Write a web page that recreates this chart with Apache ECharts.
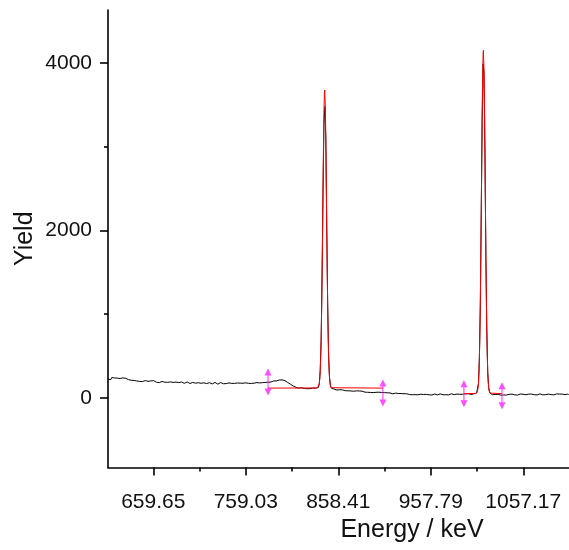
<!DOCTYPE html>
<html>
<head>
<meta charset="utf-8">
<script src="https://cdn.jsdelivr.net/npm/echarts@6/dist/echarts.min.js"></script>
<style>
  html, body { margin: 0; padding: 0; background: #fff; }
  #chart { width: 569px; height: 550px; }
</style>
</head>
<body>
<div id="chart"></div>
<script>
// Gamma spectrum: measured yield per 1 keV channel (black) and Gaussian peak fits (red)

// Background below the first line: channels 611 … 833 keV
const lowBgStart = 611;
const lowBackground = [
  225, 241, 230, 219, 244, 236, 222, 239, 248, 228,
  237, 221, 246, 233, 252, 229, 240, 224, 243, 235,
  226, 238, 219, 231, 224, 212, 230, 221, 209, 226,
  214, 203, 222, 210, 198, 215, 207, 196, 212, 201,
  208, 195, 211, 199, 206, 192, 204, 197, 189, 207,
  193, 202, 188, 199, 195, 184, 203, 191, 197, 186,
  198, 189, 182, 196, 187, 199, 185, 192, 180, 194,
  186, 195, 181, 190, 177, 193, 184, 188, 176, 191,
  182, 190, 175, 187, 180, 192, 178, 185, 173, 189,
  179, 186, 171, 184, 177, 190, 175, 182, 169, 185,
  176, 184, 170, 181, 174, 187, 172, 179, 166, 183,
  175, 182, 168, 180, 171, 186, 174, 177, 165, 181,
  173, 184, 169, 179, 170, 185, 176, 172, 181, 167,
  180, 171, 186, 174, 168, 182, 175, 188, 170, 179,
  173, 185, 177, 169, 183, 176, 190, 172, 181, 178,
  186, 175, 189, 180, 174, 191, 183, 177, 193, 181,
  184, 195, 187, 180, 197, 189, 183, 199, 191, 186,
  202, 193, 188, 205, 196, 191, 208, 199, 203, 195,
  212, 204, 218, 209, 215, 221, 207, 216, 211, 203,
  208, 199, 194, 186, 181, 172, 165, 158, 149, 143,
  138, 131, 127, 122, 125, 117, 121, 114, 123, 116,
  120, 113, 122, 116, 111, 124, 117, 112, 121, 115,
  119, 113, 122
];

// First line: channels 834 … 853 keV
const peak1Start = 834;
const peak1Counts = [
  117, 123, 116, 127, 168, 330, 690, 1480, 2450, 3280,
  3480, 3120, 2040, 1130, 500, 245, 142, 118, 109, 100
];

// Background between the lines: channels 854 … 1003 keV
const midBgStart = 854;
const midBackground = [
  106, 98, 103, 95, 101, 93, 99, 104, 92, 97,
  90, 96, 87, 93, 99, 86, 91, 95, 84, 90,
  86, 81, 89, 78, 85, 82, 76, 84, 79, 74,
  81, 73, 77, 70, 79, 72, 68, 76, 71, 66,
  73, 67, 64, 71, 62, 68, 65, 60, 69, 63,
  59, 66, 61, 56, 64, 58, 53, 62, 57, 54,
  60, 52, 57, 50, 55, 48, 58, 51, 47, 54,
  49, 45, 53, 47, 43, 51, 46, 42, 50, 44,
  48, 41, 47, 43, 39, 49, 44, 40, 47, 42,
  38, 46, 41, 45, 39, 48, 42, 37, 46, 43,
  40, 47, 38, 44, 41, 36, 45, 42, 48, 39,
  43, 37, 46, 41, 49, 40, 44, 38, 47, 42,
  39, 48, 43, 37, 46, 41, 50, 42, 45, 40,
  49, 43, 47, 41, 50, 44, 39, 48, 45, 51,
  42, 49, 46, 40, 51, 45, 48, 43, 52, 47
];

// Second line: channels 1004 … 1024 keV
const peak2Start = 1004;
const peak2Counts = [
  49, 54, 47, 58, 80, 170, 470, 1090, 2190, 3340,
  3990, 3880, 2930, 1690, 800, 300, 125, 66, 50, 45, 39
];

// Background above the second line: channels 1025 … 1106 keV
const highBgStart = 1025;
const highBackground = [
  44, 37, 42, 35, 40, 45, 36, 41, 34, 39,
  43, 36, 40, 45, 35, 42, 38, 44, 36, 41,
  46, 38, 43, 37, 45, 40, 35, 44, 39, 47,
  41, 36, 45, 40, 48, 39, 43, 37, 46, 42,
  38, 47, 41, 45, 39, 48, 43, 37, 46, 42,
  49, 41, 45, 38, 47, 43, 40, 48, 42, 46,
  39, 45, 41, 48, 43, 37, 46, 42, 49, 40,
  44, 47, 41, 38, 46, 43, 48, 40, 45, 42,
  47, 41
];
const channelWidth = 1; // keV

// Fit of the 843.8 keV line (flat background + Gaussian)
const fit1Energy = [
  782.9, 836, 836.5, 837, 837.5, 838, 838.5, 839, 839.5, 840, 840.5,
  841, 841.5, 842, 842.5, 843, 843.5, 843.8, 844, 844.5, 845, 845.5,
  846, 846.5, 847, 847.5, 848, 848.5, 849, 849.5, 850, 850.5, 851,
  851.5, 852, 906.3
];
const fit1Yield = [
  118, 120, 123, 129, 143, 171, 224, 318, 471, 704, 1031,
  1454, 1956, 2492, 3001, 3404, 3638, 3678, 3660, 3467, 3092, 2599,
  2062, 1549, 1108, 761, 511, 343, 239, 179, 147, 131, 123,
  120, 118, 118
];

// Fit of the 1014.3 keV line
const fit2Energy = [
  993.4, 1006.5, 1007, 1007.5, 1008, 1008.5, 1009, 1009.5, 1010, 1010.5,
  1011, 1011.5, 1012, 1012.5, 1013, 1013.5, 1014, 1014.3, 1014.5, 1015,
  1015.5, 1016, 1016.5, 1017, 1017.5, 1018, 1018.5, 1019, 1019.5, 1020,
  1020.5, 1021, 1021.5, 1022, 1022.5, 1034.3
];
const fit2Yield = [
  52, 54, 57, 65, 81, 113, 174, 282, 458, 726,
  1103, 1591, 2169, 2787, 3372, 3837, 4106, 4152, 4132, 3908,
  3477, 2909, 2291, 1700, 1192, 793, 504, 311, 191, 123,
  86, 67, 58, 54, 52, 52
];

// Fit-region boundary markers
const markerEnergy = [782.9, 906.3, 993.4, 1034.3];
const markerYield = [192, 60, 51, 26];

// Axes
const xMin = 610.98, xMax = 1106.3;
const yMin = -830, yMax = 4633;
const xMajorTicks = [659.65, 759.03, 858.41, 957.79, 1057.17];
const xMinorTicks = [709.34, 808.72, 908.10, 1007.48];
const yMajorTicks = [0, 2000, 4000];
const yMinorTicks = [1000, 3000];

function channels(start, values) {
  return values.map((v, i) => [start + i * channelWidth, v]);
}
const spectrum = [].concat(
  channels(lowBgStart, lowBackground),
  channels(peak1Start, peak1Counts),
  channels(midBgStart, midBackground),
  channels(peak2Start, peak2Counts),
  channels(highBgStart, highBackground)
);
const pair = (xs, ys) => xs.map((x, i) => [x, ys[i]]);

const FONT = 'Liberation Sans, Arial, sans-serif';
const axisColor = '#000';

const chart = echarts.init(document.getElementById('chart'), null, { renderer: 'canvas' });
chart.setOption({
  animation: false,
  backgroundColor: '#fff',
  grid: { left: 108, top: 10, right: 0, bottom: 82.5, containLabel: false, outerBoundsMode: 'none' },
  xAxis: [
    {
      type: 'value', min: xMin, max: xMax, position: 'bottom',
      axisLine: { show: true, onZero: false, lineStyle: { color: axisColor, width: 1.6 } },
      axisTick: { show: true, customValues: xMajorTicks, length: 8, lineStyle: { color: axisColor, width: 1.6 } },
      axisLabel: {
        customValues: xMajorTicks, margin: 24, fontSize: 21, fontFamily: FONT, color: '#111',
        formatter: v => v.toFixed(2)
      },
      splitLine: { show: false }
    },
    {
      type: 'value', min: xMin, max: xMax, position: 'bottom',
      axisLine: { show: false, onZero: false },
      axisTick: { show: true, customValues: xMinorTicks, length: 4, lineStyle: { color: axisColor, width: 1.6 } },
      axisLabel: { show: false },
      splitLine: { show: false }
    }
  ],
  yAxis: [
    {
      type: 'value', min: yMin, max: yMax, position: 'left',
      name: 'Yield', nameLocation: 'middle', nameGap: 70, nameMoveOverlap: false,
      nameTextStyle: { fontSize: 25, fontFamily: FONT, color: '#111' },
      axisLine: { show: true, onZero: false, lineStyle: { color: axisColor, width: 1.6 } },
      axisTick: { show: true, customValues: yMajorTicks, length: 8, lineStyle: { color: axisColor, width: 1.6 } },
      axisLabel: {
        customValues: yMajorTicks, margin: 16, fontSize: 21, fontFamily: FONT, color: '#111',
        formatter: v => String(v)
      },
      splitLine: { show: false }
    },
    {
      type: 'value', min: yMin, max: yMax, position: 'left',
      axisLine: { show: false, onZero: false },
      axisTick: { show: true, customValues: yMinorTicks, length: 4, lineStyle: { color: axisColor, width: 1.6 } },
      axisLabel: { show: false },
      splitLine: { show: false }
    }
  ],
  graphic: [
    {
      type: 'text', x: 412, y: 530,
      style: {
        text: 'Energy / keV', fontSize: 25, fontFamily: FONT, fill: '#111',
        align: 'center', verticalAlign: 'middle'
      }
    }
  ],
  series: [
    {
      name: 'Yield', type: 'line', data: spectrum, showSymbol: false,
      lineStyle: { color: '#000', width: 1 }, z: 2
    },
    {
      name: 'Fit 1', type: 'line', data: pair(fit1Energy, fit1Yield), showSymbol: false,
      lineStyle: { color: '#ff0000', width: 1 }, z: 3
    },
    {
      name: 'Fit 2', type: 'line', data: pair(fit2Energy, fit2Yield), showSymbol: false,
      lineStyle: { color: '#ff0000', width: 1 }, z: 3
    },
    {
      name: 'Region', type: 'scatter', data: pair(markerEnergy, markerYield),
      symbol: 'path://M3.5,0 L7,7 L4.1,7 L4.1,20 L7,20 L3.5,27 L0,20 L2.9,20 L2.9,7 L0,7 Z',
      symbolSize: [7, 27], itemStyle: { color: '#ff22ff' }, z: 4
    }
  ]
});
</script>
</body>
</html>
